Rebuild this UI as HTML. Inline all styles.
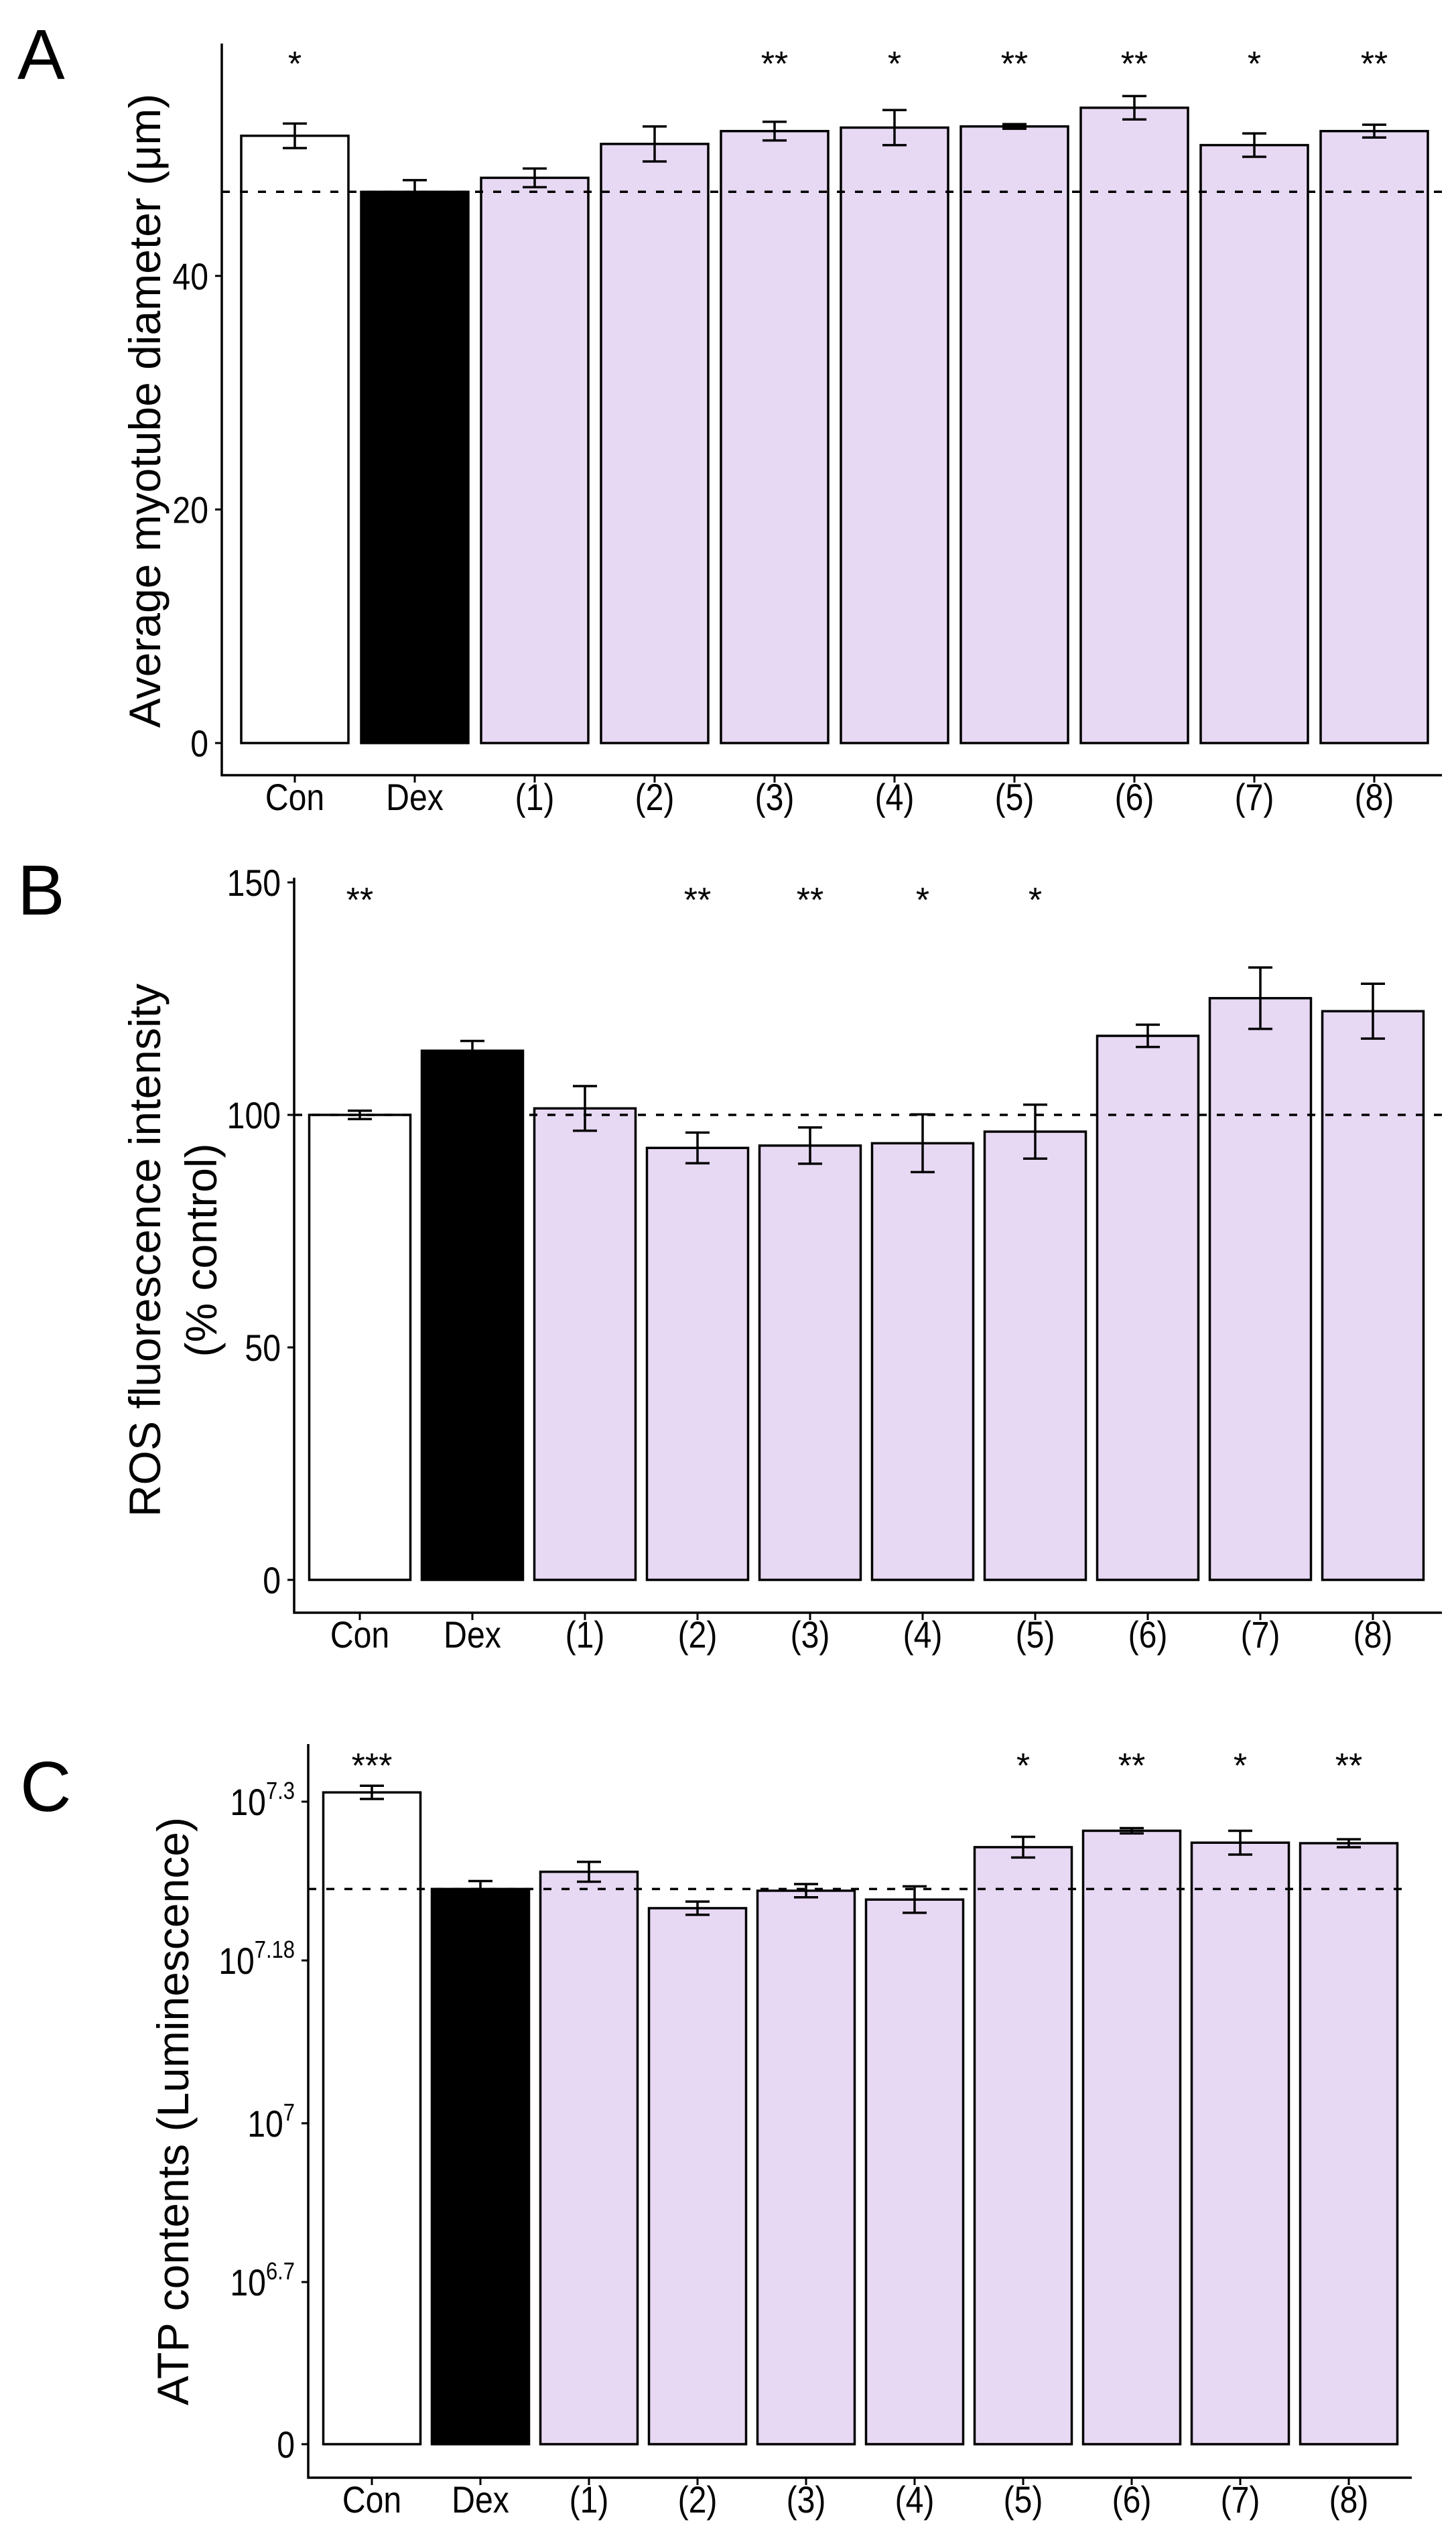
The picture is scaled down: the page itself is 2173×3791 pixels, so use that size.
<!DOCTYPE html>
<html><head><meta charset="utf-8"><style>
html,body{margin:0;padding:0;background:#fff;}
svg{display:block;font-family:"Liberation Sans",Arial,sans-serif;}
</style></head><body>
<svg id="fig" width="2173" height="3791" viewBox="0 0 2173 3791" xmlns="http://www.w3.org/2000/svg"></svg>
<script>
// ---- data ----
const categories = ["Con","Dex","(1)","(2)","(3)","(4)","(5)","(6)","(7)","(8)"];
const fills = ["#ffffff","#000000","#e7d8f3","#e7d8f3","#e7d8f3","#e7d8f3","#e7d8f3","#e7d8f3","#e7d8f3","#e7d8f3"];
// Panel A: myotube diameter
const valuesA = [52.0,47.2,48.4,51.3,52.4,52.7,52.8,54.4,51.2,52.4];
const errorsA = [1.05,1.0,0.8,1.5,0.8,1.5,0.2,1.0,1.0,0.55];
const starsA = ["*","","","","**","*","**","**","*","**"];
const ticksA = [0,20,40];
const refA = 47.2;
// Panel B: ROS
const valuesB = [100,113.8,101.4,92.9,93.4,93.9,96.4,117,125.1,122.3];
const errorsB = [0.9,2.1,4.8,3.3,3.9,6.2,5.8,2.4,6.6,5.9];
const starsB = ["**","","","**","**","*","*","","",""];
const ticksB = [0,50,100,150];
const refB = 100;
// Panel C: ATP (log10 exponents)
const valuesC = [7.307,7.234,7.247,7.2195,7.2327,7.226,7.2656,7.278,7.269,7.2686];
const errorsC = [0.005,0.006,0.0075,0.005,0.005,0.01,0.0078,0.002,0.009,0.003];
const starsC = ["***","","","","","","*","**","*","**"];
const ticksC = [0,6.7,7,7.18,7.3];
const tickLabelsC = [["0",""],["10","6.7"],["10","7"],["10","7.18"],["10","7.3"]];
const refC = 7.234;

const NS="http://www.w3.org/2000/svg";
const svg=document.getElementById('fig');
function el(tag,attrs,parent){const e=document.createElementNS(NS,tag);for(const k in attrs)e.setAttribute(k,attrs[k]);(parent||svg).appendChild(e);return e;}

function drawPanel(p){
  const g=el('g',{});
  
  
  const L=el('text',{x:p.letterX,y:p.letterY,'font-size':106},g);L.textContent=p.id;
  
  
  p.titleLines.forEach((t,i)=>{
    const tx=p.titleX[i];
    const T=el('text',{x:0,y:0,'font-size':66,'text-anchor':'middle','dominant-baseline':'central',transform:`translate(${tx},${p.titleY}) rotate(-90)`},g);
    T.textContent=t;
    
    
  });
  p.values.forEach((v,i)=>{
    const cx=p.x0+i*p.step;
    const yt=p.y(v), yb=p.y(p.base);
    const r=el('rect',{x:cx-p.bw/2,y:yt,width:p.bw,height:yb-yt,fill:fills[i],stroke:'#000','stroke-width':3.5},g);
    
    
    const e=p.errors[i], y1=p.y(v+e), y2=p.y(v-e);
    const eg=el('g',{stroke:'#000','stroke-width':3.5,fill:'none'},g);
    
    
    el('line',{x1:cx,x2:cx,y1:y1,y2:y2},eg);
    el('line',{x1:cx-18,x2:cx+18,y1:y1,y2:y1},eg);
    el('line',{x1:cx-18,x2:cx+18,y1:y2,y2:y2},eg);
    if(p.stars[i]){
      const s=el('text',{x:cx,y:p.starY,'font-size':52,'text-anchor':'middle'},g);
      s.textContent=p.stars[i];
      
      
    }
    el('line',{x1:cx,x2:cx,y1:p.axisY,y2:p.axisY+11,stroke:'#000','stroke-width':3},g);
    const lb=el('text',{x:0,y:0,'font-size':56,'text-anchor':'middle',transform:`translate(${cx},${p.axisY+52}) scale(0.86,1)`},g);
    lb.textContent=categories[i];
    
    
  });
  const dy=p.y(p.ref);
  const d=el('line',{x1:p.axisX,x2:p.axisR,y1:dy,y2:dy,stroke:'#000','stroke-width':3.5,'stroke-dasharray':'12 15'},g);
  
  
  const ax=el('path',{d:`M${p.axisX},${p.axisTop} V${p.axisY} H${p.axisR}`,fill:'none',stroke:'#000','stroke-width':3.5},g);
  
  
  p.ticks.forEach((t,i)=>{
    const ty=p.y(t);
    el('line',{x1:p.axisX-10,x2:p.axisX,y1:ty,y2:ty,stroke:'#000','stroke-width':3},g);
    const tl=el('text',{x:0,y:0,'font-size':56,'text-anchor':'end',transform:`translate(${p.axisX-20},${ty+20}) scale(0.86,1)`},g);
    const lab=p.tickLabels?p.tickLabels[i]:[String(t),""];
    tl.textContent=lab[0];
    if(lab[1]){const sp=el('tspan',{'font-size':36,dy:-24},tl);sp.textContent=lab[1];}
    
    
  });
}

function linA(v){return 1109 - v*17.43;}
function linB(v){return 2358 - v*6.94;}
const posC=[3648,3406,3169,2926,2689];
function scaleC(v){
  for(let i=0;i<ticksC.length-1;i++){
    if(v<=ticksC[i+1]||i===ticksC.length-2){
      const a=ticksC[i],b=ticksC[i+1];
      return posC[i]+(v-a)/(b-a)*(posC[i+1]-posC[i]);
    }
  }
}

drawPanel({id:'A',letterX:26,letterY:118,titleLines:["Average myotube diameter (\u03bcm)"],titleX:[216],titleY:613,
  values:valuesA,errors:errorsA,stars:starsA,ticks:ticksA,y:linA,base:0,ref:refA,
  x0:440,step:179,bw:160,axisX:331,axisTop:65,axisY:1157,axisR:2152,starY:113});
drawPanel({id:'B',letterX:26,letterY:1365,titleLines:["ROS fluorescence intensity","(% control)"],titleX:[216,300],titleY:1866,
  values:valuesB,errors:errorsB,stars:starsB,ticks:ticksB,y:linB,base:0,ref:refB,
  x0:537,step:168,bw:151,axisX:439,axisTop:1310,axisY:2407,axisR:2152,starY:1361});
drawPanel({id:'C',letterX:30,letterY:2703,titleLines:["ATP contents (Luminescence)"],titleX:[258],titleY:3151,
  values:valuesC,errors:errorsC,stars:starsC,ticks:ticksC,tickLabels:tickLabelsC,y:scaleC,base:0,ref:refC,
  x0:555,step:162,bw:145,axisX:460,axisTop:2603,axisY:3698,axisR:2107,starY:2653});
</script>
</body></html>
